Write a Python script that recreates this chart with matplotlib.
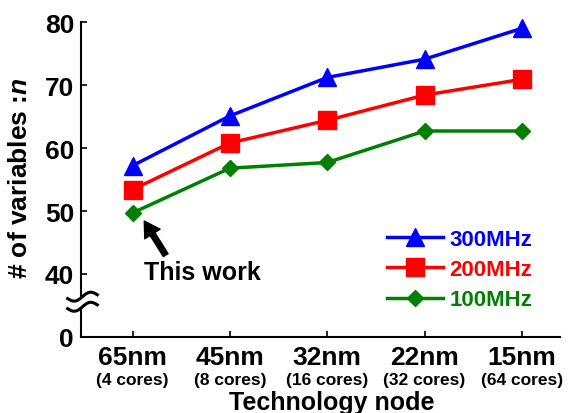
import matplotlib
matplotlib.use('Agg')
import matplotlib.pyplot as plt
import numpy as np

plt.rcParams['font.family'] = 'Liberation Sans'
plt.rcParams['font.weight'] = 'bold'
plt.rcParams['axes.labelweight'] = 'bold'
plt.rcParams['mathtext.fontset'] = 'custom'
plt.rcParams['mathtext.it'] = 'Liberation Sans:bold:italic'

nodes = ['65nm', '45nm', '32nm', '22nm', '15nm']
cores = ['(4 cores)', '(8 cores)', '(16 cores)', '(32 cores)', '(64 cores)']
mhz300 = [57.2, 65.1, 71.2, 74.1, 79.0]
mhz200 = [53.4, 60.8, 64.4, 68.4, 70.9]
mhz100 = [49.7, 56.8, 57.7, 62.7, 62.7]
yticks = [30, 40, 50, 60, 70, 80]
ytick_labels = ['0', '40', '50', '60', '70', '80']

fig = plt.figure(figsize=(5.69, 4.14), dpi=100)
ax = fig.add_axes([0.1424, 0.1836, 0.8416, 0.7608])
x = np.arange(len(nodes))

ax.plot(x, mhz300, color='#0000ff', lw=2.5, marker='^', ms=13, label='300MHz', clip_on=False, zorder=3)
ax.plot(x, mhz200, color='#ff0000', lw=2.5, marker='s', ms=12.5, label='200MHz', clip_on=False, zorder=3)
ax.plot(x, mhz100, color='#008000', lw=2.5, marker='D', ms=8.5, label='100MHz', clip_on=False, zorder=3)

ax.set_xlim(-0.53, 4.39)
ax.set_ylim(30, 80)
ax.set_yticks(yticks)
ax.set_yticklabels(ytick_labels, fontsize=19)
ax.set_xticks(x)
ax.set_xticklabels(nodes, fontsize=19)
ax.tick_params(direction='in', length=4, width=1.2, pad=5)
ax.tick_params(axis='x', pad=6)
for s in ['top', 'right']:
    ax.spines[s].set_visible(False)
for s in ['left', 'bottom']:
    ax.spines[s].set_linewidth(1.5)

for i, c in enumerate(cores):
    ax.text(x[i], -0.135, c, transform=ax.get_xaxis_transform(), ha='center', va='center', fontsize=12.5)

ax.set_xlabel('Technology node', fontsize=18, va='center')
ax.xaxis.set_label_coords(0.524, -0.205)
ax.set_ylabel('# of variables :$n$', fontsize=19, va='center')
ax.yaxis.set_label_coords(-0.127, 0.506)

# axis break marks
tr = ax.get_yaxis_transform()
ax.fill_between([-0.012, 0.012], 34.8, 36.4, color='white', transform=tr, clip_on=False, zorder=4)
t = np.linspace(-1, 1, 40)
for yb in [36.4, 34.8]:
    ax.plot(0.003 + 0.031 * t, yb + 0.55 * np.sin(np.pi * t) + 0.3 * t, color='black', lw=2.2,
            transform=tr, clip_on=False, zorder=5)

# "This work" annotation
ax.annotate('', xy=(0.12, 48.4), xytext=(0.34, 43.0),
            arrowprops=dict(facecolor='black', edgecolor='black', width=4, headwidth=13, headlength=11))
ax.text(0.72, 40.3, 'This work', fontsize=18, ha='center', va='center')

leg = ax.legend(loc='center left', bbox_to_anchor=(0.639, 0.214), frameon=False, fontsize=16,
                handlelength=2.5, handletextpad=0.3, labelspacing=0.42, borderpad=0, borderaxespad=0,
                labelcolor='linecolor')

fig.savefig('out.png', dpi=100)
